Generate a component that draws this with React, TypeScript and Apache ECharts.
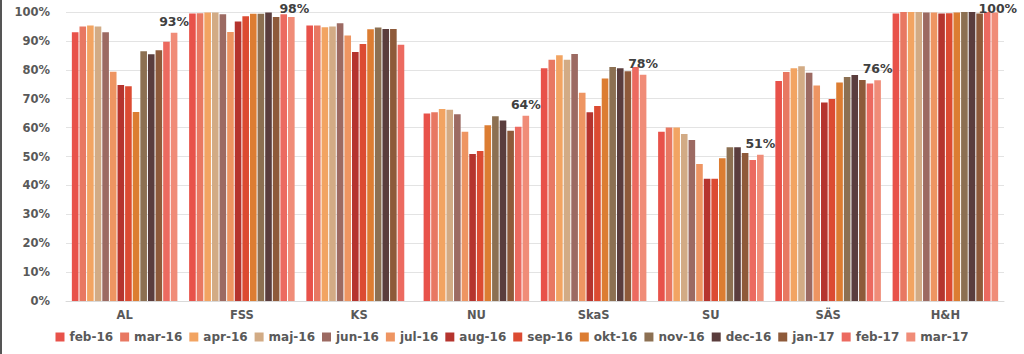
import React, { useEffect, useRef } from "react";
import * as echarts from "echarts";

const categories = ["AL", "FSS", "KS", "NU", "SkaS", "SU", "SÄS", "H&H"];
const months = [
  "feb-16", "mar-16", "apr-16", "maj-16", "jun-16", "jul-16", "aug-16",
  "sep-16", "okt-16", "nov-16", "dec-16", "jan-17", "feb-17", "mar-17",
];
const colors = [
  "#E8524A", "#E87862", "#F2A462", "#D2AB85", "#9C6A62", "#EE9562", "#B5342E",
  "#DC4B32", "#DC7D32", "#8C7052", "#5A3D3D", "#8E5A3A", "#EC6A60", "#F08C78",
];

// values per category, one per month (feb-16 .. mar-17)
const AL = [93, 95, 95.3, 95, 93, 79.3, 74.7, 74.3, 65.4, 86.4, 85.4, 86.8, 89.7, 92.8];
const FSS = [99.5, 99.6, 99.8, 99.8, 99.2, 93.1, 96.7, 98.5, 99.4, 99.4, 99.8, 98.3, 99.2, 98.3];
const KS = [95.3, 95.3, 94.7, 95, 96.1, 91.9, 86.2, 88.9, 94, 94.6, 94.1, 94.1, 88.7, null];
const NU = [64.9, 65.3, 66.4, 66.2, 64.6, 58.6, 50.9, 51.9, 60.8, 63.9, 62.5, 58.9, 60.3, 64.1];
const SkaS = [80.5, 83.5, 85, 83.5, 85.5, 72.1, 65.3, 67.5, 77, 81, 80.5, 79.5, 81, 78.3];
const SU = [58.6, 60, 60, 57.8, 55.7, 47.4, 42.3, 42.3, 49.4, 53.2, 53.2, 51.2, 48.8, 50.6];
const SAS = [76.1, 79.2, 80.5, 81.2, 79, 74.6, 68.7, 69.9, 75.6, 77.5, 78.2, 76.5, 75.3, 76.4];
const HH = [99.5, 100, 100, 100, 99.8, 99.8, 99.5, 99.6, 99.8, 100, 100, 99.5, 100, 99.8];

const byCategory = [AL, FSS, KS, NU, SkaS, SU, SAS, HH];
const yTicks = [0, 10, 20, 30, 40, 50, 60, 70, 80, 90, 100];

const FONT = "'DejaVu Sans', 'Open Sans', sans-serif";
const GREY = "#595959";

export default function App() {
  const ref = useRef<HTMLDivElement>(null);
  useEffect(() => {
    document.body.style.margin = "0";
    const chart = echarts.init(ref.current!, null, { renderer: "svg" });
    const lastIdx = months.length - 1;
    const series = months.map((m, i) => ({
      name: m,
      type: "bar",
      data: byCategory.map((arr) => arr[i]),
      itemStyle: { color: colors[i] },
      barGap: "15%",
      barCategoryGap: "10%",
      label:
        i === lastIdx
          ? {
              show: true,
              position: "top",
              distance: 5,
              formatter: (p: any) => Math.round(p.value) + "%",
              color: "#404040",
              fontSize: 12.5,
              fontWeight: "bold",
              fontFamily: FONT,
            }
          : { show: false },
      labelLayout:
        i === lastIdx
          ? (params: any) => {
              const r = params.labelRect;
              if (r.y < 2) {
                return { x: r.x + r.width / 2 + 3, y: 2, align: "center", verticalAlign: "top" };
              }
              return {};
            }
          : undefined,
    }));
    chart.setOption({
      animation: false,
      backgroundColor: "#ffffff",
      grid: { left: 66, right: 20, top: 12, bottom: 53, containLabel: false },
      legend: {
        bottom: 6,
        left: "center",
        itemWidth: 9,
        itemHeight: 9,
        itemGap: 7,
        icon: "rect",
        textStyle: { color: GREY, fontSize: 12, fontWeight: "bold", fontFamily: FONT },
        data: months,
      },
      xAxis: {
        type: "category",
        data: categories,
        axisLine: { show: true, lineStyle: { color: "#d9d9d9" } },
        axisTick: { show: false },
        axisLabel: { color: GREY, fontSize: 11.5, fontWeight: "bold", fontFamily: FONT, margin: 8 },
      },
      yAxis: {
        type: "value",
        min: yTicks[0],
        max: yTicks[yTicks.length - 1],
        interval: 10,
        axisLine: { show: false },
        axisTick: { show: false },
        splitLine: { lineStyle: { color: "#e3e3e3" } },
        axisLabel: {
          color: GREY,
          fontSize: 11.5,
          fontWeight: "bold",
          fontFamily: FONT,
          margin: 16,
          formatter: (v: number) => v + "%",
        },
      },
      graphic: [
        {
          type: "rect",
          left: 0,
          top: 0,
          shape: { width: 2, height: 354 },
          style: { fill: "#555555" },
        },
      ],
      series,
    });
    return () => chart.dispose();
  }, []);
  return <div ref={ref} style={{ width: 1024, height: 354 }} />;
}
